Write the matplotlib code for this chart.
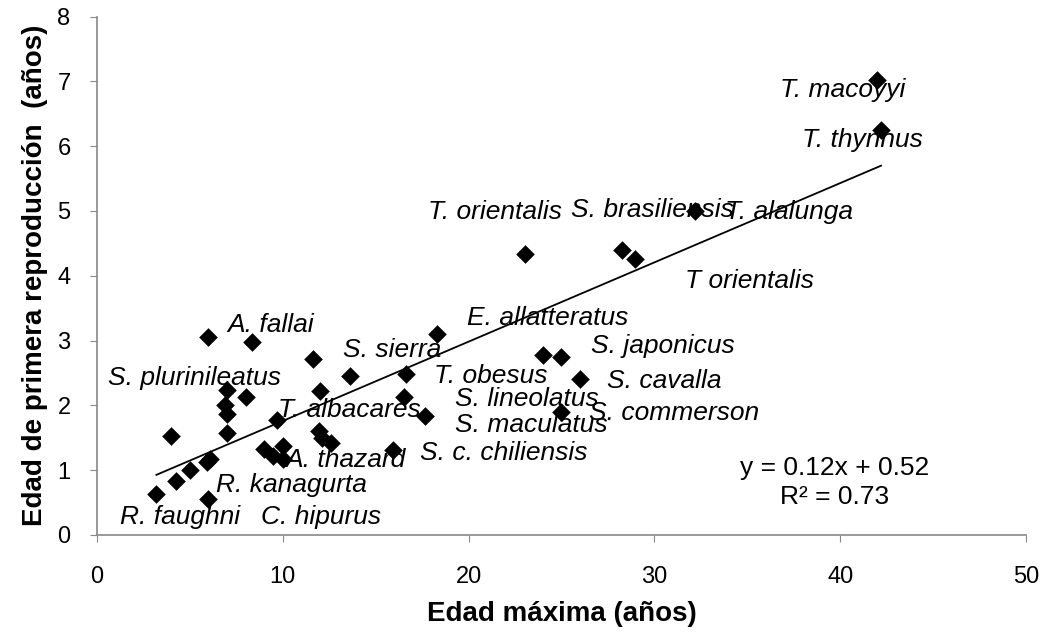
import numpy as np
import matplotlib
matplotlib.use("Agg")
import matplotlib.pyplot as plt

plt.rcParams['font.family'] = ['Liberation Sans', 'DejaVu Sans']

# data: maximum age (x) vs age of first reproduction (y)
edad_max = [3.2, 4.0, 4.25, 5.0, 5.9, 6.1, 6.0, 6.0, 7.0, 6.9,
            7.0, 7.0, 8.0, 8.33, 9.0, 9.5, 9.67, 10.0, 10.0, 11.6,
            12.0, 11.95, 12.1, 12.6, 13.6, 15.95, 16.5, 16.65, 17.65, 18.28,
            23.04, 24.0, 25.0, 25.0, 26.0, 28.24, 28.96, 32.2, 42.0, 42.2]
edad_rep = [0.64, 1.53, 0.84, 1.0, 1.12, 1.18, 0.55, 3.05, 2.23, 2.01,
            1.87, 1.57, 2.13, 2.98, 1.32, 1.22, 1.77, 1.38, 1.18, 2.71,
            2.22, 1.61, 1.50, 1.42, 2.46, 1.31, 2.13, 2.49, 1.84, 3.10,
            4.33, 2.77, 2.75, 1.90, 2.40, 4.40, 4.26, 5.0, 7.02, 6.25]

# species labels (text, x, y)
species = ["T. macoyyi", "T. thynnus", "S. brasiliensis", "T. alalunga", "T. orientalis",
           "T orientalis", "E. allatteratus", "S. japonicus", "S. cavalla", "S. commerson",
           "T. obesus", "S. lineolatus", "S. maculatus", "S. c. chiliensis", "S. sierra",
           "T. albacares", "A. thazard", "R. kanagurta", "C. hipurus", "R. faughni",
           "S. plurinileatus", "A. fallai"]
label_x = [36.76, 37.94, 25.5, 33.8, 17.8,
           31.65, 19.9, 26.6, 27.45, 26.5,
           18.14, 19.27, 19.27, 17.4, 13.24,
           9.74, 10.12, 6.4, 8.83, 1.24,
           0.6, 7.0]
label_y = [6.87, 6.10, 5.02, 4.98, 4.98,
           3.92, 3.35, 2.92, 2.38, 1.88,
           2.46, 2.10, 1.70, 1.27, 2.86,
           1.93, 1.16, 0.77, 0.28, 0.28,
           2.42, 3.24]

x_ticks = [0, 10, 20, 30, 40, 50]
y_ticks = [0, 1, 2, 3, 4, 5, 6, 7, 8]

fig = plt.figure(figsize=(10.45, 6.43), dpi=100)
ax = fig.add_axes([0.0928, 0.168, 0.889, 0.8062])

ax.scatter(edad_max, edad_rep, marker='D', s=9.5**2, color='black', zorder=3, linewidths=0)

coef = np.polyfit(edad_max, edad_rep, 1)
xs = np.array([min(edad_max), max(edad_max)])
ax.plot(xs, np.polyval(coef, xs), color='black', lw=1.3, zorder=2)

for t, lx, ly in zip(species, label_x, label_y):
    ax.text(lx, ly, t, fontsize=19, style='italic', ha='left', va='center', zorder=4)

ax.text(39.7, 1.03, "y = 0.12x + 0.52", fontsize=19, ha='center', va='center')
ax.text(39.7, 0.59, "R² = 0.73", fontsize=19, ha='center', va='center')

ax.set_xlim(0, 50)
ax.set_ylim(0, 8)
ax.set_xticks(x_ticks)
ax.set_yticks(y_ticks)
ax.tick_params(axis='both', labelsize=17, color='#888888', length=5, direction='out')
ax.tick_params(axis='x', pad=17)
ax.tick_params(axis='y', pad=14)
for s in ['top', 'right']:
    ax.spines[s].set_visible(False)
for s in ['left', 'bottom']:
    ax.spines[s].set_color('#888888')
    ax.spines[s].set_linewidth(1.2)

ax.set_xlabel("Edad máxima (años)", fontsize=20, fontweight='bold', labelpad=10)
ax.set_ylabel("Edad de primera reproducción  (años)", fontsize=20, fontweight='bold', labelpad=7)

fig.savefig("out.png", dpi=100)
